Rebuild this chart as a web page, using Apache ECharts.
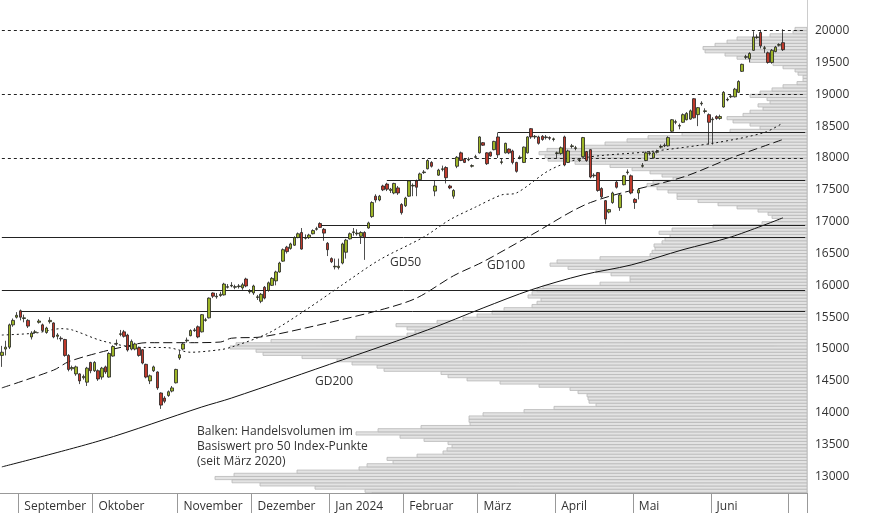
<!DOCTYPE html>
<html><head><meta charset="utf-8">
<script src="https://cdn.jsdelivr.net/npm/echarts@6/dist/echarts.min.js"></script>
<style>html,body{margin:0;padding:0;background:#fff}#c{width:874px;height:515px}</style>
</head><body><div id="c"></div>
<script>
// candles: [open, close, low, high]
const candles = [
[14900,14950,14720,15050],[15000,15030,14900,15130],[15030,15380,15000,15400],[15380,15450,15350,15480],[15500,15530,15480,15580],
[15600,15500,15450,15620],[15480,15490,15420,15540],[15450,15360,15330,15470],[15190,15250,15150,15280],[15260,15270,15240,15300],
[15420,15440,15400,15470],[15380,15290,15270,15400],[15260,15330,15240,15350],[15430,15450,15400,15500],[15410,15190,15170,15420],
[15200,15220,15150,15250],[15170,15160,15120,15200],[15150,14900,14880,15160],[14900,14680,14650,14920],[14690,14710,14660,14740],
[14610,14720,14580,14740],[14610,14500,14450,14620],[14550,14570,14520,14600],[14480,14700,14420,14720],[14790,14660,14620,14800],
[14660,14790,14640,14810],[14660,14530,14500,14680],[14560,14700,14520,14720],[14720,14640,14610,14740],[14560,14930,14550,14950],
[14890,15040,14880,15060],[15080,15090,15050,15150],[15230,15240,15200,15300],[15270,15200,15180,15300],[15220,14985,14960,15240],
[15000,15120,14980,15150],[15000,15080,14980,15100],[15020,14900,14880,15040],[14990,14780,14760,15000],[14760,14560,14540,14770],
[14500,14580,14450,14600],[14660,14720,14640,14740],[14640,14390,14360,14650],[14310,14120,14060,14320],[14230,14180,14150,14260],
[14270,14330,14250,14350],[14340,14390,14320,14420],[14470,14680,14460,14690],[14860,14910,14830,14980],[15000,15080,14980,15100],
[15130,15140,15100,15180],[15210,15290,15200,15310],[15290,15300,15270,15330],[15350,15190,15170,15370],[15270,15540,15260,15550],
[15450,15460,15430,15490],[15490,15800,15480,15810],[15880,15830,15800,15890],[15820,15830,15790,15880],[15840,15860,15820,15900],
[15850,16020,15840,16040],[15970,15980,15950,16020],[15990,16000,15970,16050],[15970,15980,15940,16010],[15980,15990,15950,16020],
[15960,16010,15930,16040],[16100,15990,15970,16120],[15900,15910,15870,15940],[15880,15990,15850,16010],[15810,15820,15770,15850],
[15750,15860,15720,15880],[15970,15800,15780,15990],[15920,16040,15900,16060],[16000,16110,15990,16130],[16070,16210,16000,16230],
[16210,16350,16200,16370],[16380,16560,16370,16580],[16600,16530,16500,16620],[16580,16650,16560,16670],[16630,16750,16620,16770],
[16750,16810,16740,16830],[16830,16570,16560,16900],[16740,16750,16720,16800],[16750,16790,16730,16810],[16810,16860,16800,16880],
[16880,16890,16860,16920],[16970,16910,16900,16990],[16880,16820,16700,16900],[16660,16560,16460,16680],[16420,16370,16350,16440],
[16290,16300,16250,16420],[16280,16300,16250,16420],[16350,16650,16330,16670],[16520,16710,16420,16730],[16730,16810,16720,16830],
[16830,16840,16780,16900],[16810,16820,16780,16880],[16770,16830,16650,16850],[16830,16750,16400,16850],[16900,16980,16890,17000],
[17080,17300,17060,17320],[17400,17340,17300,17430],[17340,17400,17320,17420],[17560,17500,17480,17580],[17590,17510,17480,17610],
[17490,17510,17450,17530],[17450,17600,17430,17610],[17530,17450,17420,17560],[17270,17140,17110,17290],[17250,17370,17230,17390],
[17400,17640,17390,17650],[17560,17570,17400,17600],[17640,17540,17400,17660],[17660,17750,17650,17770],[17770,17780,17750,17810],
[17830,17960,17820,17980],[17930,17870,17850,17950],[17480,17560,17400,17650],[17730,17810,17720,17830],[17820,17830,17790,17880],
[17850,17690,17600,17870],[17560,17530,17510,17580],[17400,17490,17360,17510],[17870,18010,17840,18030],[18080,17960,17950,18100],
[17980,17930,17920,18000],[17970,17980,17950,18010],[17870,17880,17850,17900],[18010,18020,17990,18050],[18080,18330,18070,18340],
[18240,18200,18190,18250],[18080,17910,17890,18090],[18090,18030,18020,18100],[18130,18260,18120,18270],[18330,18050,18000,18400],
[17930,17940,17900,17990],[18080,18230,18070,18240],[18140,18080,18060,18150],[18110,17930,17900,18130],[17930,17790,17770,17940],
[18000,18010,17980,18040],[17930,18170,17920,18180],[18080,18330,18070,18340],[18460,18330,18300,18470],[18330,18340,18300,18360],
[18330,18230,18210,18350],[18340,18290,18270,18360],[18320,18330,18290,18360],[18320,18310,18280,18340],[18290,18300,18260,18320],
[18070,18080,18000,18100],[18070,18160,18050,18180],[18330,17890,17870,18350],[17930,18110,17920,18130],[18180,18190,18150,18220],
[18150,18160,18120,18190],[17960,17970,17940,18000],[18020,18320,18010,18330],[18100,17960,17940,18110],[18130,17700,17680,18140],
[17720,17730,17690,17760],[17770,17490,17470,17780],[17520,17390,17370,17540],[17330,17040,16960,17340],[17150,17190,17130,17200],
[17300,17450,17280,17470],[17620,17540,17520,17640],[17220,17420,17170,17440],[17580,17720,17570,17730],[17770,17780,17740,17820],
[17720,17450,17430,17740],[17350,17300,17200,17370],[17450,17500,17350,17520],[17870,17880,17850,17920],[17960,18080,17950,18100],
[18070,18080,18040,18110],[18000,18080,17990,18100],[18090,18100,18070,18130],[18170,18180,18150,18210],[18190,18200,18170,18230],
[18190,18320,18180,18340],[18420,18600,18410,18610],[18560,18570,18530,18600],[18500,18510,18450,18540],[18560,18680,18550,18700],
[18600,18700,18590,18720],[18610,18740,18600,18760],[18930,18630,18620,18940],[18680,18790,18500,18800],[18850,18860,18820,18890],
[18730,18740,18700,18780],[18680,18560,18210,18700],[18600,18610,18210,18640],[18650,18620,18600,18670],[18620,18650,18600,18680],
[18800,19030,18790,19050],[18910,18920,18890,18950],[18960,18970,18940,19000],[18960,19080,18950,19100],[19030,19200,19020,19220],
[19360,19470,19350,19480],[19580,19590,19550,19620],[19560,19640,19500,19660],[19690,19900,19680,19990],[19890,19900,19870,19940],
[19970,19760,19720,20010],[19720,19730,19650,19760],[19650,19500,19480,19670],[19500,19690,19480,19710],[19670,19740,19660,19760],
[19770,19780,19750,19800],[19810,19700,19680,20020]
];
const categoryCount = 218;
const monthStarts = [5,25,48,68,89,109,129,150,171,192,213];
const monthLabels = ['September','Oktober','November','Dezember','Jan 2024','Februar','März','April','Mai','Juni',''];
const gd50 = [[0,15220],[9,15250],[16,15320],[19,15300],[27,15130],[36,15030],[45,15020],[51,14950],[59,14990],[62,15030],[72,15250],[82,15610],[92,16010],[102,16400],[114,16760],[121,17030],[128,17230],[135,17420],[139,17450],[148,17810],[157,18000],[175,18100],[193,18240],[206,18400],[211,18550]];
const gd100 = [[0,14390],[14,14670],[18,14800],[26,14940],[34,15050],[39,15100],[51,15100],[59,15110],[62,15170],[70,15190],[82,15330],[102,15610],[112,15800],[122,16150],[130,16370],[143,16790],[159,17300],[184,17700],[197,18000],[211,18290]];
const gd200 = [[0,13150],[27,13570],[54,14090],[62,14230],[92,14830],[115,15300],[130,15645],[143,15930],[157,16165],[170,16320],[184,16560],[197,16760],[211,17060]];
const dottedLevels = [20000,19000,18000];
const solidLevels = [[134,18400],[104,17650],[86,16950],[0,16750],[0,15920],[5,15600]];
const profileStart = 12700, profileStep = 50;
const profile = [435,442,492,547,575,592,573,510,448,440,
414,420,390,364,360,355,359,383,407,451,
429,386,337,338,338,324,283,253,211,218,
219,220,229,237,268,307,340,359,366,423,
430,455,470,505,544,551,577,571,536,451,
400,392,400,411,370,344,330,315,303,275,
270,266,279,275,270,264,207,177,177,196,
211,239,257,250,207,157,155,152,153,145,
142,137,148,135,94,45,29,35,39,49,
70,89,109,130,130,139,150,160,154,134,
145,157,175,197,232,259,262,268,260,224,
202,180,159,125,77,47,57,74,80,64,
57,44,49,37,40,57,47,35,24,10,
4,4,9,12,24,34,57,70,82,102,
104,92,80,70,37,14,12];

const cats = Array.from({length: categoryCount}, (_, i) => String(i));
const monthMap = {}; monthStarts.forEach((m, k) => monthMap[m] = monthLabels[k]);
const YMIN = 12740, YMAX = 20480;
const lastCat = categoryCount - 1;

const markData = [];
dottedLevels.forEach(v => markData.push([{coord:[0,v], lineStyle:{type:[3,3],color:'#222',width:1}},{coord:[lastCat,v]}]));
solidLevels.forEach(([s,v]) => markData.push([{coord:[s,v], lineStyle:{type:'solid',color:'#222',width:1}},{coord:[lastCat,v]}]));

const profData = profile.map((v, i) => [v, profileStart + i*profileStep]);

const chart = echarts.init(document.getElementById('c'), null, {renderer:'canvas'});
chart.setOption({
  animation:false,
  grid:[{left:0,right:67,top:0,bottom:22},{left:0,right:67,top:0,bottom:22}],
  xAxis:[{
    type:'category', data:cats, gridIndex:0, boundaryGap:true,
    axisLine:{lineStyle:{color:'#999'}},
    axisTick:{show:true, length:20, interval:(i)=> monthMap[i]!==undefined, lineStyle:{color:'#999'}},
    axisLabel:{interval:(i)=> monthMap[i]!==undefined, formatter:(v)=> monthMap[+v]||'', align:'left', padding:[0,0,0,4], margin:8, color:'#333', fontSize:12, fontFamily:'Open Sans'},
    splitLine:{show:false}
  },{
    type:'value', gridIndex:1, min:0, max:807, inverse:true, show:false
  }],
  yAxis:[{
    type:'value', gridIndex:0, position:'right', min:YMIN, max:YMAX, interval:20,
    axisLine:{show:true, lineStyle:{color:'#ccc'}}, axisTick:{show:false}, splitLine:{show:false},
    axisLabel:{color:'#333', fontSize:12, fontFamily:'Open Sans', margin:8, formatter:(v)=> (Math.round(v)%500===0 && v>=13000 && v<=20000) ? String(Math.round(v)) : ''}
  },{
    type:'value', gridIndex:1, min:YMIN, max:YMAX, show:false
  }],
  series:[
    {type:'custom', xAxisIndex:1, yAxisIndex:1, z:1, clip:true, data:profData,
     renderItem:(params, api)=>{
       const v = api.value(0), p = api.value(1);
       const a = api.coord([0, p + profileStep]);
       const b = api.coord([v, p]);
       return {type:'rect', shape:{x:Math.min(a[0],b[0]), y:a[1], width:Math.abs(a[0]-b[0]), height:b[1]-a[1]},
         style:{fill:'#e3e3e3', stroke:'#b8b8b8', lineWidth:0.8}};
     }},
    {type:'line', data:gd200, symbol:'none', z:3, smooth:0.3, lineStyle:{color:'#111',width:1,type:'solid'}},
    {type:'line', data:gd100, symbol:'none', z:3, smooth:0.3, lineStyle:{color:'#111',width:1,type:[9,4]}},
    {type:'line', data:gd50, symbol:'none', z:3, smooth:0.3, lineStyle:{color:'#111',width:1,type:[2,3]}},
    {type:'candlestick', data:candles, z:5, barWidth:3,
     itemStyle:{color:'#9db526', color0:'#c0392b', borderColor:'#222', borderColor0:'#222', borderWidth:0.8},
     markLine:{symbol:'none', silent:true, label:{show:false}, animation:false, data:markData, z:4}}
  ],
  graphic:[
    {type:'text', left:390, top:257, style:{text:'GD50', fill:'#333', font:'12px "Open Sans"'}},
    {type:'text', left:487, top:260, style:{text:'GD100', fill:'#333', font:'12px "Open Sans"'}},
    {type:'text', left:315, top:376, style:{text:'GD200', fill:'#333', font:'12px "Open Sans"'}},
    {type:'text', left:197, top:424, style:{text:'Balken: Handelsvolumen im\nBasiswert pro 50 Index-Punkte\n(seit März 2020)', fill:'#333', font:'12px "Open Sans"', lineHeight:15}}
  ]
});
</script></body></html>
